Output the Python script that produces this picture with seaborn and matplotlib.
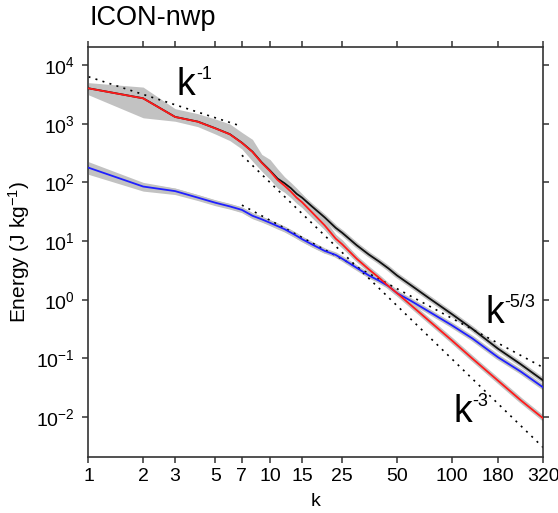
import matplotlib
matplotlib.use("Agg")
import matplotlib.pyplot as plt
import numpy as np
import pandas as pd
import seaborn as sns
from matplotlib.ticker import FixedLocator, FixedFormatter, LogLocator, NullLocator, LogFormatterSciNotation

# Wavenumbers and kinetic energy spectra (J kg^-1)
k = [1, 2, 3, 4, 5, 6, 7, 8, 9, 10, 11, 12, 13, 14, 15, 17, 20, 23, 25, 30,
     35, 40, 45, 50, 60, 75, 100, 130, 180, 240, 320]
rot = [4000, 2700, 1300, 1080, 830, 660, 470, 330, 215, 155, 110, 88, 70, 55, 46,
       31, 18.5, 11, 8.8, 5.0, 3.3, 2.35, 1.7, 1.3, 0.8, 0.44, 0.205, 0.1, 0.042,
       0.0195, 0.0095]
div = [178, 85, 71, 55, 45, 39, 34, 27, 23.5, 20.5, 18, 16, 14, 12.3, 10.8, 8.8,
       6.8, 5.8, 5.0, 3.5, 2.6, 2.1, 1.7, 1.3, 0.95, 0.63, 0.37, 0.22, 0.105,
       0.06, 0.032]
tot = [4010, 2710, 1305, 1085, 835, 664, 474, 334, 219, 159, 116, 97, 80, 64,
       55, 39, 25.3, 16.8, 13.8, 8.5, 5.9, 4.45, 3.4, 2.6, 1.75, 1.07, 0.575,
       0.32, 0.147, 0.08, 0.042]

# Ensemble spread at the large scales
rot_lo = [3100, 1260, 1100, 890, 665, 515, 370, 230, 155, 112, 80, 68, 55, 44,
          37, 25, 15.5, 9.5, 7.6, 4.5]
rot_hi = [5000, 4200, 1800, 1480, 1200, 990, 710, 540, 300, 245, 170, 125, 100,
          80, 64, 42, 24, 13, 10.5, 5.6]
div_lo = [137, 71, 62, 49, 40, 35, 30.5, 24, 21, 18.3, 16, 14.3, 12.5, 11, 9.7,
          7.9, 6.2]
div_hi = [225, 100, 80, 62, 50, 43.5, 38, 30.5, 26.5, 23, 20.3, 18, 15.7, 13.8,
          12, 9.8, 7.5]

# Reference power-law slopes (end points)
ref_m1_k, ref_m1_E = [1, 7], [6300, 900]
ref_m3_k, ref_m3_E = [7, 320], [290, 0.00303]
ref_m53_k, ref_m53_E = [7, 320], [41, 0.070]

xticks = [1, 2, 3, 5, 7, 10, 15, 25, 50, 100, 180, 320]
xticklabels = [str(t) for t in xticks]

sns.set_theme(style="ticks")
plt.rcParams["font.family"] = ["Liberation Sans", "DejaVu Sans"]
plt.rcParams["mathtext.fontset"] = "custom"
plt.rcParams["mathtext.rm"] = "Liberation Sans"
plt.rcParams["mathtext.it"] = "Liberation Sans:italic"
plt.rcParams["text.color"] = "black"
plt.rcParams["axes.labelcolor"] = "black"

fig = plt.figure(figsize=(5.58, 5.13), dpi=100)
ax = fig.add_axes([0.1586, 0.1092, 0.8151, 0.7998])

series = {"total": tot, "divergent": div, "rotational": rot}
colors = {"total": "#111111", "divergent": "#1f1fff", "rotational": "#ff1a1a"}
band = "#c2c2c2"

# gray halo under each spectrum
for name, vals in series.items():
    sns.lineplot(x=k, y=vals, color=band, lw=3.6, ax=ax, legend=False,
                 estimator=None, sort=False, zorder=1)
ax.fill_between(k[:len(rot_lo)], rot_lo, rot_hi, color=band, lw=0, zorder=1)
ax.fill_between(k[:len(div_lo)], div_lo, div_hi, color=band, lw=0, zorder=1)

# reference slopes
dot = dict(color="black", lw=1.2, ls=(0, (1.2, 3.2)), zorder=2)
ax.plot(ref_m1_k, ref_m1_E, **dot)
ax.plot(ref_m3_k, ref_m3_E, **dot)
ax.plot(ref_m53_k, ref_m53_E, **dot)

# spectra: total underneath, rotational on top
for z, (name, vals) in enumerate(series.items()):
    sns.lineplot(x=k, y=vals, color=colors[name], lw=1.3, ax=ax, legend=False,
                 estimator=None, sort=False, zorder=3 + z)

ax.set_xscale("log")
ax.set_yscale("log")
ax.set_xlim(1, 320)
ax.set_ylim(2.1e-3, 2.05e4)

ax.xaxis.set_major_locator(FixedLocator(xticks))
ax.xaxis.set_major_formatter(FixedFormatter(xticklabels))
ax.xaxis.set_minor_locator(NullLocator())
ax.yaxis.set_major_locator(LogLocator(base=10, numticks=20))
ax.yaxis.set_major_formatter(LogFormatterSciNotation())
ax.yaxis.set_minor_locator(NullLocator())

for s in ax.spines.values():
    s.set_linewidth(1.2)
    s.set_color("#333333")
ax.tick_params(which="major", direction="out", length=4, width=1.1, color="#333333",
               top=True, right=True, labeltop=False, labelright=False,
               labelsize=14, labelcolor="black")
ax.tick_params(axis="x", pad=4)
ax.tick_params(axis="y", pad=6)

ax.set_xlabel("k", fontsize=14, labelpad=6)
ax.set_ylabel(r"Energy (J kg$^{\mathregular{-1}}$)", fontsize=15, labelpad=3)

# slope labels: large "k" with a small raised exponent
for kx, ey, expo in [(3.06, 3080, "-1"), (153, 0.406, "-5/3"), (102.4, 0.0083, "-3")]:
    ax.text(kx, ey, "k", fontsize=27, ha="left", va="baseline", zorder=6)
    ax.annotate(expo, xy=(kx, ey), xytext=(13.8, 11.5), textcoords="offset points",
                fontsize=13, ha="left", va="baseline", zorder=6)

fig.text(90 / 558, 1 - 25 / 513, "ICON-nwp", fontsize=19.5, ha="left", va="baseline")

fig.savefig("out.png", dpi=100)
